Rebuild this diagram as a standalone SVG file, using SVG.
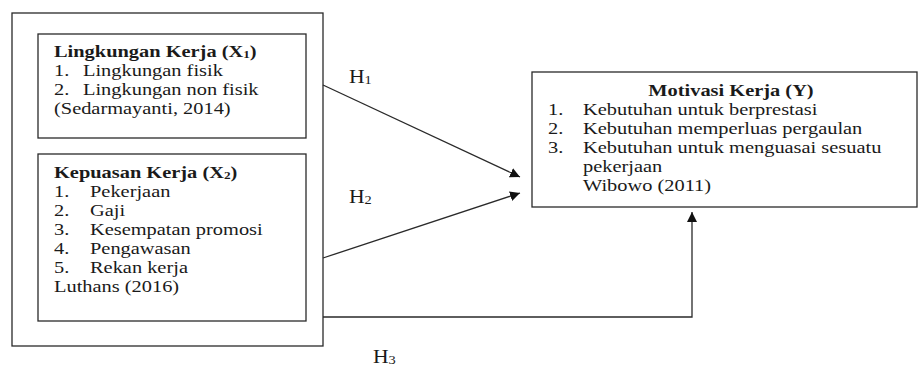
<svg xmlns="http://www.w3.org/2000/svg" width="918" height="370" viewBox="0 0 918 370">
<style>
.box{fill:none;stroke:#2a2a2a;stroke-width:1.3}
.t{font-family:"Liberation Serif","Times New Roman",serif;font-size:17px;fill:#1a1a1a}
.b{font-weight:bold}
.h{font-family:"Liberation Serif","Times New Roman",serif;font-size:18px;fill:#1a1a1a}
.ln{fill:none;stroke:#2a2a2a;stroke-width:1.3}
</style>
<defs>
<marker id="ah" viewBox="0 0 10 10" refX="10" refY="5" markerWidth="10" markerHeight="10" markerUnits="userSpaceOnUse" orient="auto">
<path d="M0,0 L10,5 L0,10 z" fill="#111"/>
</marker>
</defs>
<rect width="918" height="370" fill="#ffffff"/>
<g id="outer"><rect class="box" x="12" y="13" width="311" height="333"/></g>
<g id="x1">
<rect class="box" x="38" y="34" width="268" height="104"/>
<text class="t b" transform="matrix(1.2 0 0 1 54 57)">Lingkungan Kerja (X<tspan font-size="11" dy="1">1</tspan><tspan dy="-1">)</tspan></text>
<text class="t" transform="matrix(1.2 0 0 1 54 76)">1.</text>
<text class="t" transform="matrix(1.2 0 0 1 83 76)">Lingkungan fisik</text>
<text class="t" transform="matrix(1.2 0 0 1 54 95)">2.</text>
<text class="t" transform="matrix(1.2 0 0 1 83 95)">Lingkungan non fisik</text>
<text class="t" transform="matrix(1.2 0 0 1 54 114)">(Sedarmayanti, 2014)</text>
</g>
<g id="x2">
<rect class="box" x="38" y="154" width="268" height="167"/>
<text class="t b" transform="matrix(1.2 0 0 1 54 178)">Kepuasan Kerja (X<tspan font-size="11" dy="1">2</tspan><tspan dy="-1">)</tspan></text>
<text class="t" transform="matrix(1.2 0 0 1 54 197)">1.</text>
<text class="t" transform="matrix(1.2 0 0 1 90 197)">Pekerjaan</text>
<text class="t" transform="matrix(1.2 0 0 1 54 216)">2.</text>
<text class="t" transform="matrix(1.2 0 0 1 90 216)">Gaji</text>
<text class="t" transform="matrix(1.2 0 0 1 54 235)">3.</text>
<text class="t" transform="matrix(1.2 0 0 1 90 235)">Kesempatan promosi</text>
<text class="t" transform="matrix(1.2 0 0 1 54 254)">4.</text>
<text class="t" transform="matrix(1.2 0 0 1 90 254)">Pengawasan</text>
<text class="t" transform="matrix(1.2 0 0 1 54 273)">5.</text>
<text class="t" transform="matrix(1.2 0 0 1 90 273)">Rekan kerja</text>
<text class="t" transform="matrix(1.2 0 0 1 54 292)">Luthans (2016)</text>
</g>
<g id="y">
<rect class="box" x="532" y="72" width="385" height="135"/>
<text class="t b" text-anchor="middle" transform="matrix(1.2 0 0 1 731 96)">Motivasi Kerja (Y)</text>
<text class="t" transform="matrix(1.2 0 0 1 548 115)">1.</text>
<text class="t" transform="matrix(1.2 0 0 1 583 115)">Kebutuhan untuk berprestasi</text>
<text class="t" transform="matrix(1.2 0 0 1 548 134)">2.</text>
<text class="t" transform="matrix(1.2 0 0 1 583 134)">Kebutuhan memperluas pergaulan</text>
<text class="t" transform="matrix(1.2 0 0 1 548 153)">3.</text>
<text class="t" transform="matrix(1.2 0 0 1 583 153)">Kebutuhan untuk menguasai sesuatu</text>
<text class="t" transform="matrix(1.2 0 0 1 583 172)">pekerjaan</text>
<text class="t" transform="matrix(1.2 0 0 1 583 191)">Wibowo (2011)</text>
</g>
<g id="connectors">
<line class="ln" x1="323" y1="85" x2="520" y2="177" marker-end="url(#ah)"/>
<line class="ln" x1="323" y1="258" x2="520" y2="193" marker-end="url(#ah)"/>
<polyline class="ln" points="323,317 692,317 692,212" marker-end="url(#ah)"/>
</g>
<g id="labels">
<text class="h" transform="matrix(1.2 0 0 1 349 83)">H<tspan font-size="12" dy="1">1</tspan></text>
<text class="h" transform="matrix(1.2 0 0 1 349 203)">H<tspan font-size="12" dy="1">2</tspan></text>
<text class="h" transform="matrix(1.2 0 0 1 373 363)">H<tspan font-size="12" dy="1">3</tspan></text>
</g>
</svg>
